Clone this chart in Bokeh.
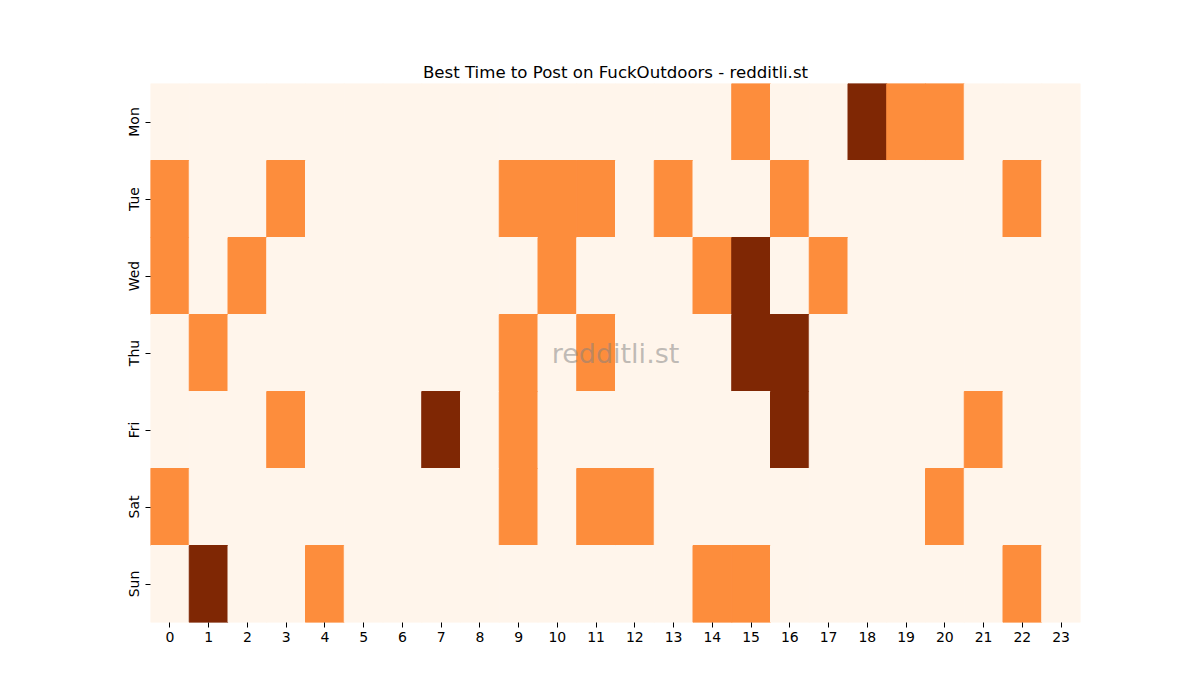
from bokeh.plotting import figure
from bokeh.models import ColumnDataSource, LinearColorMapper, Label, FactorRange
from bokeh.embed import file_html
from bokeh.resources import INLINE

# data: posting score per day and hour (0 = low, 1 = mid, 2 = high)
days = ["Mon", "Tue", "Wed", "Thu", "Fri", "Sat", "Sun"]
hours = [str(h) for h in range(24)]

mon = [0, 0, 0, 0, 0, 0, 0, 0, 0, 0, 0, 0, 0, 0, 0, 1, 0, 0, 2, 1, 1, 0, 0, 0]
tue = [1, 0, 0, 1, 0, 0, 0, 0, 0, 1, 1, 1, 0, 1, 0, 0, 1, 0, 0, 0, 0, 0, 1, 0]
wed = [1, 0, 1, 0, 0, 0, 0, 0, 0, 0, 1, 0, 0, 0, 1, 2, 0, 1, 0, 0, 0, 0, 0, 0]
thu = [0, 1, 0, 0, 0, 0, 0, 0, 0, 1, 0, 1, 0, 0, 0, 2, 2, 0, 0, 0, 0, 0, 0, 0]
fri = [0, 0, 0, 1, 0, 0, 0, 2, 0, 1, 0, 0, 0, 0, 0, 0, 2, 0, 0, 0, 0, 1, 0, 0]
sat = [1, 0, 0, 0, 0, 0, 0, 0, 0, 1, 0, 1, 1, 0, 0, 0, 0, 0, 0, 0, 1, 0, 0, 0]
sun = [0, 2, 0, 0, 1, 0, 0, 0, 0, 0, 0, 0, 0, 0, 1, 1, 0, 0, 0, 0, 0, 0, 1, 0]

grid = [mon, tue, wed, thu, fri, sat, sun]

xs, ys, vals = [], [], []
for d, row in zip(days, grid):
    for h, v in zip(hours, row):
        xs.append(h)
        ys.append(d)
        vals.append(v)
source = ColumnDataSource(dict(hour=xs, day=ys, val=vals))

# matplotlib "Oranges" at 0, 0.5, 1
mapper = LinearColorMapper(palette=["#fff5eb", "#fd8d3c", "#7f2704"], low=0, high=2)

p = figure(width=1184, height=684, output_backend="svg", toolbar_location=None,
           x_range=FactorRange(*hours), y_range=FactorRange(*reversed(days)),
           title="Best Time to Post on FuckOutdoors - redditli.st",
           min_border_left=150, min_border_right=104,
           min_border_top=83, min_border_bottom=62)

p.rect(x="hour", y="day", width=1, height=1, source=source,
       fill_color={"field": "val", "transform": mapper},
       line_color={"field": "val", "transform": mapper}, line_width=1)

p.title.align = "center"
p.title.text_font = "DejaVu Sans"
p.title.text_font_size = "16.6px"
p.title.text_font_style = "normal"
p.title.text_color = "black"
p.title.standoff = 4

p.outline_line_color = None
p.grid.grid_line_color = None
p.background_fill_color = "white"
p.border_fill_color = "white"

for ax in (p.xaxis[0], p.yaxis[0]):
    ax.axis_line_color = None
    ax.major_tick_line_color = "black"
    ax.major_tick_out = 5
    ax.major_tick_in = 0
    ax.major_label_text_font = "DejaVu Sans"
    ax.major_label_text_font_size = "14px"
    ax.major_label_text_color = "black"
    ax.major_label_standoff = 4
    ax.group_text_font_size = "0px"

p.yaxis.major_label_orientation = "vertical"

p.add_layout(Label(x=12, y=3.5, text="redditli.st", text_align="center",
                   text_baseline="middle", text_font="DejaVu Sans",
                   text_font_size="27px", text_color="gray", text_alpha=0.5))

open("out.html", "w").write(file_html(p, INLINE))
